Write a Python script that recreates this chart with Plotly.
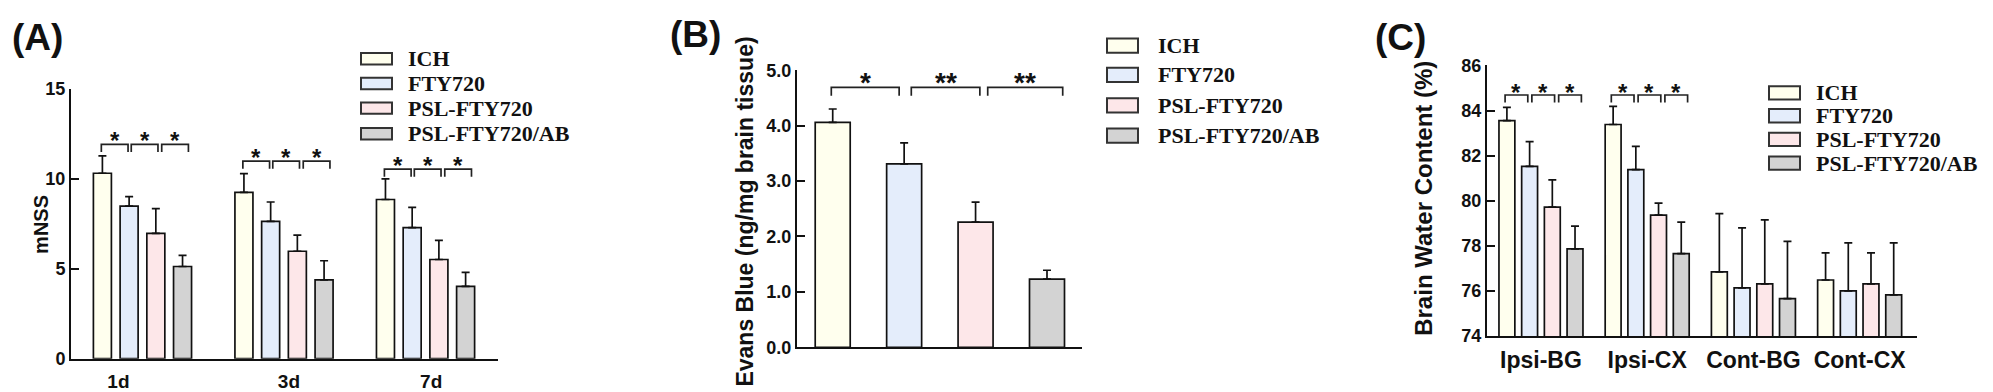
import plotly.graph_objects as go

W, H = 1993, 392

# ---------------- data ----------------
GROUPS = ["ICH", "FTY720", "PSL-FTY720", "PSL-FTY720/AB"]
COLORS = ["#FFFFEE", "#E4EDFB", "#FDE7E9", "#D3D3D3"]

# (A) mNSS
A_DAYS = ["1d", "3d", "7d"]
A_ICH = [10.32, 9.26, 8.86]
A_FTY = [8.49, 7.64, 7.29]
A_PSL = [6.97, 5.98, 5.52]
A_AB = [5.13, 4.39, 4.02]
A_ICH_ERR = [0.97, 1.04, 1.15]
A_FTY_ERR = [0.53, 1.08, 1.13]
A_PSL_ERR = [1.38, 0.90, 1.06]
A_AB_ERR = [0.62, 1.06, 0.78]
A_BRACKET_Y = [11.93, 10.99, 10.55]
A_SIG = ["*", "*", "*"]
A_LABEL_SHIFT = [-0.17, 0.035, 0.04]

# (B) Evans Blue
B_MEAN = [4.06, 3.31, 2.26, 1.23]
B_ERR = [0.24, 0.38, 0.36, 0.16]
B_BRACKET_Y = 4.69
B_SIG = ["*", "**", "**"]

# (C) Brain water content
C_SITES = ["Ipsi-BG", "Ipsi-CX", "Cont-BG", "Cont-CX"]
C_ICH = [83.55, 83.38, 76.84, 76.48]
C_FTY = [81.52, 81.38, 76.13, 76.00]
C_PSL = [79.71, 79.36, 76.31, 76.31]
C_AB = [77.86, 77.65, 75.65, 75.82]
C_ICH_ERR = [0.59, 0.80, 2.59, 1.20]
C_FTY_ERR = [1.10, 1.03, 2.66, 2.13]
C_PSL_ERR = [1.21, 0.53, 2.84, 1.37]
C_AB_ERR = [1.01, 1.40, 2.54, 2.31]
C_BRACKET_Y = [84.69, 84.69]
C_SIG = ["*", "*", "*"]

SANS = "Liberation Sans, Arial, sans-serif"
SERIF = "Liberation Serif, Times New Roman, serif"


def px(x):
    return x / W


def py(y):
    return 1 - y / H


fig = go.Figure()
shapes = []
annotations = []

err_style = dict(type="data", symmetric=False, color="#111111", thickness=1.7, width=4)


def grouped(ax_suffix, cats_n, series, errs, group_frac, bar_frac):
    slot = group_frac / len(series)
    barw = slot * bar_frac
    for k, (vals, ee) in enumerate(zip(series, errs)):
        off = -group_frac / 2 + slot * k + (slot - barw) / 2
        fig.add_trace(go.Bar(
            x=list(range(cats_n)), y=vals, width=barw, offset=off,
            marker=dict(color=COLORS[k], line=dict(color="#111111", width=1.7)),
            error_y=dict(array=ee, arrayminus=[0] * len(ee), **err_style),
            xaxis="x" + ax_suffix, yaxis="y" + ax_suffix, showlegend=False,
            name=GROUPS[k],
        ))
    return slot


def brackets(ax_suffix, centers, yb, depth, shifts, sigs, fsize, star_shift):
    for k in range(len(centers) - 1):
        x1 = centers[k] + shifts[k]
        x2 = centers[k + 1] + shifts[k]
        shapes.append(dict(
            type="path", xref="x" + ax_suffix, yref="y" + ax_suffix,
            path=f"M {x1},{yb - depth} L {x1},{yb} L {x2},{yb} L {x2},{yb - depth}",
            line=dict(color="#222222", width=1.7)))
        annotations.append(dict(
            x=(x1 + x2) / 2, y=yb, xref="x" + ax_suffix, yref="y" + ax_suffix,
            text=sigs[k], showarrow=False, yanchor="bottom", yshift=star_shift,
            font=dict(family=SANS, size=fsize, color="#111111", weight="bold")))


# ---------- Panel A ----------
A_GF, A_BF = 0.755, 0.674
slotA = grouped("", len(A_DAYS), [A_ICH, A_FTY, A_PSL, A_AB],
                [A_ICH_ERR, A_FTY_ERR, A_PSL_ERR, A_AB_ERR], A_GF, A_BF)
for i, yb in enumerate(A_BRACKET_Y):
    centers = [i - A_GF / 2 + slotA * (k + 0.5) for k in range(len(GROUPS))]
    brackets("", centers, yb, 0.42, [s * slotA for s in (-0.04, 0.08, 0.22)],
             A_SIG, 24, -12)

# ---------- Panel B ----------
B_BW = 0.49
fig.add_trace(go.Bar(
    x=list(range(len(GROUPS))), y=B_MEAN, width=B_BW,
    marker=dict(color=COLORS, line=dict(color="#111111", width=1.7)),
    error_y=dict(array=B_ERR, arrayminus=[0] * len(B_ERR), **err_style),
    xaxis="x2", yaxis="y2", showlegend=False))
B_LEFT = [-0.02, 0.10, 0.17]
B_RIGHT = [-0.07, 0.06, 0.22]
for k in range(len(GROUPS) - 1):
    x1, x2 = k + B_LEFT[k], k + 1 + B_RIGHT[k]
    shapes.append(dict(
        type="path", xref="x2", yref="y2",
        path=f"M {x1},{B_BRACKET_Y - 0.15} L {x1},{B_BRACKET_Y} L {x2},{B_BRACKET_Y} L {x2},{B_BRACKET_Y - 0.15}",
        line=dict(color="#222222", width=1.7)))
    annotations.append(dict(
        x=(x1 + x2) / 2, y=B_BRACKET_Y, xref="x2", yref="y2", text=B_SIG[k],
        showarrow=False, yanchor="bottom", yshift=-13,
        font=dict(family=SANS, size=28, color="#111111", weight="bold")))

# ---------- Panel C ----------
C_GF, C_BF = 0.855, 0.70
slotC = grouped("3", len(C_SITES), [C_ICH, C_FTY, C_PSL, C_AB],
                [C_ICH_ERR, C_FTY_ERR, C_PSL_ERR, C_AB_ERR], C_GF, C_BF)
for i, yb in enumerate(C_BRACKET_Y):
    centers = [i - C_GF / 2 + slotC * (k + 0.5) for k in range(len(GROUPS))]
    brackets("3", centers, yb, 0.33, [s * slotC for s in (-0.08, 0.10, 0.28)],
             C_SIG, 24, -13)

# ---------- axes ----------
axis_common = dict(showline=True, linecolor="#111111", linewidth=2, showgrid=False,
                   zeroline=False, mirror=False)
ytick_common = dict(ticks="inside", ticklen=8, tickwidth=1.7, tickcolor="#111111",
                    tickfont=dict(family=SANS, size=18, color="#111111", weight="bold"))

fig.update_layout(
    xaxis=dict(domain=[px(63), px(490)], range=[-0.505, 2.512], anchor="y",
               tickvals=[i + s for i, s in enumerate(A_LABEL_SHIFT)], ticktext=A_DAYS,
               ticks="", ticklabelstandoff=5,
               tickfont=dict(family=SANS, size=19, color="#111111", weight="bold"),
               **axis_common),
    yaxis=dict(domain=[py(359), py(75)], range=[0, 15], anchor="x",
               tickvals=[0, 5, 10, 15], **ytick_common, **axis_common),
    xaxis2=dict(domain=[px(789), px(1074)], range=[-0.5, 3.49], anchor="y2",
                showticklabels=False, ticks="", **axis_common),
    yaxis2=dict(domain=[py(347), py(55)], range=[0, 5], anchor="x2",
                tickvals=[0, 1, 2, 3, 4, 5], tickformat=".1f", **ytick_common, **axis_common),
    xaxis3=dict(domain=[px(1479), px(1909)], range=[-0.508, 3.54], anchor="y3",
                tickvals=list(range(len(C_SITES))), ticktext=C_SITES, ticks="",
                ticklabelstandoff=2,
                tickfont=dict(family=SANS, size=23, color="#111111", weight="bold"),
                **axis_common),
    yaxis3=dict(domain=[py(335), py(50)], range=[74, 86], anchor="x3",
                tickvals=[74, 76, 78, 80, 82, 84, 86], **ytick_common, **axis_common),
)

# ---------- titles / panel labels ----------
for txt, x, y in [("(A)", 2, 21), ("(B)", 660, 17), ("(C)", 1365, 21)]:
    annotations.append(dict(text=txt, x=px(x), y=py(y), xref="paper", yref="paper",
                            xanchor="left", yanchor="middle", showarrow=False,
                            font=dict(family=SANS, size=37, color="#111111", weight="bold")))
for txt, x, y, size in [("mNSS", 20, 218, 20),
                        ("Evans Blue (ng/mg brain tissue)", 737, 204, 23),
                        ("Brain Water Content (%)", 1431, 190, 24)]:
    annotations.append(dict(text=txt, x=px(x), y=py(y), xref="paper", yref="paper",
                            textangle=-90, showarrow=False,
                            font=dict(family=SANS, size=size, color="#111111", weight="bold")))

# ---------- legends (drawn) ----------
for (bx, tx, ys, bh) in [(353, 398, [43, 69, 95, 122], 12),
                         (1099, 1148, [29, 60, 92, 124], 15),
                         (1761, 1806, [79, 103, 128, 153], 14)]:
    for k, g in enumerate(GROUPS):
        yc = ys[k]
        shapes.append(dict(type="rect", xref="paper", yref="paper",
                           x0=px(bx), x1=px(bx + 31), y0=py(yc + bh / 2), y1=py(yc - bh / 2),
                           fillcolor=COLORS[k], line=dict(color="#333333", width=2)))
        annotations.append(dict(text=g, x=px(tx), y=py(yc), xref="paper", yref="paper",
                                xanchor="left", yanchor="middle", showarrow=False,
                                font=dict(family=SERIF, size=22, color="#111111", weight="bold")))

fig.update_layout(
    width=W, height=H, margin=dict(l=0, r=0, t=0, b=0),
    paper_bgcolor="white", plot_bgcolor="white", barmode="overlay",
    shapes=shapes, annotations=annotations, showlegend=False,
)

fig.write_html("out.html")
